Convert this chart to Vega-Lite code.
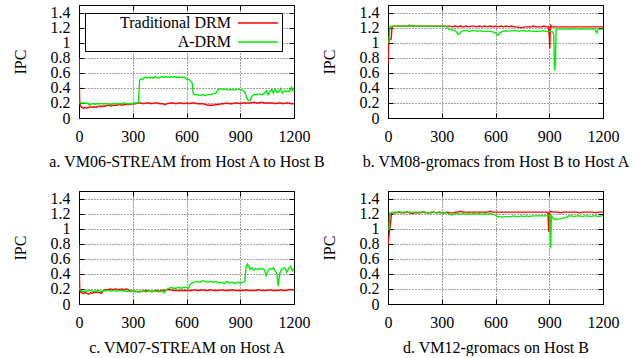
{
  "$schema": "https://vega.github.io/schema/vega-lite/v6.json",
  "padding": {"left": 11, "top": 4, "right": 0, "bottom": 0},
  "bounds": "flush",
  "columns": 2,
  "spacing": {"row": 73, "column": 94},
  "resolve": {"scale": {"color": "independent"}, "legend": {"color": "independent"}},
  "config": {
    "font": "Liberation Serif, DejaVu Serif, serif",
    "view": {"stroke": "#000", "strokeWidth": 1},
    "axis": {"domain": false, "labelOverlap": false, "labelFlush": false, "labelFont": "Liberation Serif, DejaVu Serif, serif", "labelFontSize": 16, "labelColor": "#000", "titleFont": "Liberation Serif, DejaVu Serif, serif", "titleFontSize": 16, "titleFontWeight": "normal", "titleColor": "#000", "tickColor": "#000", "tickSize": -5, "gridColor": "#000", "gridDash": [1, 2], "gridOpacity": 0.75},
    "legend": {"orient": "none", "legendX": 6, "legendY": 8, "symbolType": "M-2.5,0H2.5", "symbolSize": 256, "symbolStrokeWidth": 1.5, "labelFont": "Liberation Serif, DejaVu Serif, serif", "labelFontSize": 16, "labelColor": "#000", "labelAlign": "right", "labelOffset": -36, "symbolOffset": 163, "padding": 1, "rowPadding": 2, "strokeColor": "#000", "fillColor": "#fff", "labelLimit": 300}
  },
  "datasets": {
    "a": [
      {"s":"Traditional DRM","t":0,"v":0.8},{"s":"Traditional DRM","t":2,"v":0.45},{"s":"Traditional DRM","t":4,"v":0.2},{"s":"Traditional DRM","t":8,"v":0.16},{"s":"Traditional DRM","t":15,"v":0.14},{"s":"Traditional DRM","t":25,"v":0.13},{"s":"Traditional DRM","t":35,"v":0.14},{"s":"Traditional DRM","t":45,"v":0.13},{"s":"Traditional DRM","t":55,"v":0.14},{"s":"Traditional DRM","t":65,"v":0.15},{"s":"Traditional DRM","t":75,"v":0.14},{"s":"Traditional DRM","t":85,"v":0.15},{"s":"Traditional DRM","t":95,"v":0.14},{"s":"Traditional DRM","t":105,"v":0.15},{"s":"Traditional DRM","t":115,"v":0.16},{"s":"Traditional DRM","t":125,"v":0.15},{"s":"Traditional DRM","t":135,"v":0.16},{"s":"Traditional DRM","t":150,"v":0.16},{"s":"Traditional DRM","t":165,"v":0.17},{"s":"Traditional DRM","t":180,"v":0.16},{"s":"Traditional DRM","t":195,"v":0.17},{"s":"Traditional DRM","t":210,"v":0.17},{"s":"Traditional DRM","t":225,"v":0.18},{"s":"Traditional DRM","t":240,"v":0.17},{"s":"Traditional DRM","t":255,"v":0.18},{"s":"Traditional DRM","t":270,"v":0.18},{"s":"Traditional DRM","t":285,"v":0.18},{"s":"Traditional DRM","t":300,"v":0.19},{"s":"Traditional DRM","t":315,"v":0.19},{"s":"Traditional DRM","t":330,"v":0.2},{"s":"Traditional DRM","t":345,"v":0.2},{"s":"Traditional DRM","t":360,"v":0.19},{"s":"Traditional DRM","t":375,"v":0.2},{"s":"Traditional DRM","t":390,"v":0.2},{"s":"Traditional DRM","t":405,"v":0.19},{"s":"Traditional DRM","t":420,"v":0.2},{"s":"Traditional DRM","t":435,"v":0.2},{"s":"Traditional DRM","t":450,"v":0.19},{"s":"Traditional DRM","t":465,"v":0.19},{"s":"Traditional DRM","t":480,"v":0.18},{"s":"Traditional DRM","t":495,"v":0.19},{"s":"Traditional DRM","t":510,"v":0.2},{"s":"Traditional DRM","t":525,"v":0.2},{"s":"Traditional DRM","t":540,"v":0.19},{"s":"Traditional DRM","t":555,"v":0.2},{"s":"Traditional DRM","t":570,"v":0.2},{"s":"Traditional DRM","t":585,"v":0.19},{"s":"Traditional DRM","t":600,"v":0.2},{"s":"Traditional DRM","t":615,"v":0.19},{"s":"Traditional DRM","t":630,"v":0.2},{"s":"Traditional DRM","t":645,"v":0.2},{"s":"Traditional DRM","t":660,"v":0.19},{"s":"Traditional DRM","t":675,"v":0.19},{"s":"Traditional DRM","t":690,"v":0.19},{"s":"Traditional DRM","t":705,"v":0.18},{"s":"Traditional DRM","t":720,"v":0.17},{"s":"Traditional DRM","t":735,"v":0.17},{"s":"Traditional DRM","t":750,"v":0.17},{"s":"Traditional DRM","t":765,"v":0.18},{"s":"Traditional DRM","t":780,"v":0.18},{"s":"Traditional DRM","t":795,"v":0.19},{"s":"Traditional DRM","t":810,"v":0.19},{"s":"Traditional DRM","t":825,"v":0.2},{"s":"Traditional DRM","t":840,"v":0.19},{"s":"Traditional DRM","t":855,"v":0.19},{"s":"Traditional DRM","t":870,"v":0.2},{"s":"Traditional DRM","t":885,"v":0.2},{"s":"Traditional DRM","t":900,"v":0.19},{"s":"Traditional DRM","t":915,"v":0.2},{"s":"Traditional DRM","t":930,"v":0.2},{"s":"Traditional DRM","t":945,"v":0.2},{"s":"Traditional DRM","t":960,"v":0.2},{"s":"Traditional DRM","t":975,"v":0.21},{"s":"Traditional DRM","t":990,"v":0.2},{"s":"Traditional DRM","t":1005,"v":0.2},{"s":"Traditional DRM","t":1020,"v":0.21},{"s":"Traditional DRM","t":1035,"v":0.2},{"s":"Traditional DRM","t":1050,"v":0.2},{"s":"Traditional DRM","t":1065,"v":0.2},{"s":"Traditional DRM","t":1080,"v":0.2},{"s":"Traditional DRM","t":1095,"v":0.19},{"s":"Traditional DRM","t":1110,"v":0.2},{"s":"Traditional DRM","t":1125,"v":0.2},{"s":"Traditional DRM","t":1140,"v":0.19},{"s":"Traditional DRM","t":1155,"v":0.2},{"s":"Traditional DRM","t":1170,"v":0.2},{"s":"Traditional DRM","t":1185,"v":0.19},{"s":"Traditional DRM","t":1200,"v":0.19},
      {"s":"A-DRM","t":0,"v":0.21},{"s":"A-DRM","t":10,"v":0.2},{"s":"A-DRM","t":20,"v":0.2},{"s":"A-DRM","t":30,"v":0.2},{"s":"A-DRM","t":40,"v":0.2},{"s":"A-DRM","t":50,"v":0.19},{"s":"A-DRM","t":60,"v":0.17},{"s":"A-DRM","t":70,"v":0.19},{"s":"A-DRM","t":80,"v":0.19},{"s":"A-DRM","t":90,"v":0.18},{"s":"A-DRM","t":100,"v":0.19},{"s":"A-DRM","t":115,"v":0.19},{"s":"A-DRM","t":130,"v":0.19},{"s":"A-DRM","t":145,"v":0.19},{"s":"A-DRM","t":160,"v":0.19},{"s":"A-DRM","t":175,"v":0.18},{"s":"A-DRM","t":190,"v":0.19},{"s":"A-DRM","t":205,"v":0.19},{"s":"A-DRM","t":220,"v":0.19},{"s":"A-DRM","t":235,"v":0.19},{"s":"A-DRM","t":250,"v":0.2},{"s":"A-DRM","t":265,"v":0.19},{"s":"A-DRM","t":280,"v":0.19},{"s":"A-DRM","t":295,"v":0.19},{"s":"A-DRM","t":310,"v":0.2},{"s":"A-DRM","t":325,"v":0.2},{"s":"A-DRM","t":332,"v":0.21},{"s":"A-DRM","t":338,"v":0.5},{"s":"A-DRM","t":345,"v":0.52},{"s":"A-DRM","t":355,"v":0.51},{"s":"A-DRM","t":365,"v":0.54},{"s":"A-DRM","t":375,"v":0.53},{"s":"A-DRM","t":385,"v":0.54},{"s":"A-DRM","t":395,"v":0.53},{"s":"A-DRM","t":405,"v":0.54},{"s":"A-DRM","t":415,"v":0.53},{"s":"A-DRM","t":425,"v":0.55},{"s":"A-DRM","t":435,"v":0.54},{"s":"A-DRM","t":445,"v":0.53},{"s":"A-DRM","t":455,"v":0.54},{"s":"A-DRM","t":465,"v":0.55},{"s":"A-DRM","t":475,"v":0.54},{"s":"A-DRM","t":485,"v":0.55},{"s":"A-DRM","t":495,"v":0.54},{"s":"A-DRM","t":505,"v":0.54},{"s":"A-DRM","t":515,"v":0.55},{"s":"A-DRM","t":525,"v":0.54},{"s":"A-DRM","t":535,"v":0.55},{"s":"A-DRM","t":545,"v":0.54},{"s":"A-DRM","t":555,"v":0.54},{"s":"A-DRM","t":565,"v":0.54},{"s":"A-DRM","t":575,"v":0.54},{"s":"A-DRM","t":585,"v":0.54},{"s":"A-DRM","t":595,"v":0.53},{"s":"A-DRM","t":605,"v":0.51},{"s":"A-DRM","t":615,"v":0.51},{"s":"A-DRM","t":625,"v":0.49},{"s":"A-DRM","t":632,"v":0.46},{"s":"A-DRM","t":638,"v":0.32},{"s":"A-DRM","t":645,"v":0.31},{"s":"A-DRM","t":660,"v":0.31},{"s":"A-DRM","t":675,"v":0.3},{"s":"A-DRM","t":690,"v":0.31},{"s":"A-DRM","t":705,"v":0.3},{"s":"A-DRM","t":720,"v":0.31},{"s":"A-DRM","t":735,"v":0.31},{"s":"A-DRM","t":750,"v":0.32},{"s":"A-DRM","t":765,"v":0.33},{"s":"A-DRM","t":775,"v":0.37},{"s":"A-DRM","t":790,"v":0.39},{"s":"A-DRM","t":805,"v":0.38},{"s":"A-DRM","t":820,"v":0.38},{"s":"A-DRM","t":835,"v":0.37},{"s":"A-DRM","t":850,"v":0.38},{"s":"A-DRM","t":865,"v":0.37},{"s":"A-DRM","t":880,"v":0.38},{"s":"A-DRM","t":895,"v":0.38},{"s":"A-DRM","t":910,"v":0.37},{"s":"A-DRM","t":920,"v":0.36},{"s":"A-DRM","t":928,"v":0.33},{"s":"A-DRM","t":935,"v":0.27},{"s":"A-DRM","t":945,"v":0.23},{"s":"A-DRM","t":955,"v":0.23},{"s":"A-DRM","t":965,"v":0.29},{"s":"A-DRM","t":975,"v":0.31},{"s":"A-DRM","t":990,"v":0.31},{"s":"A-DRM","t":1005,"v":0.32},{"s":"A-DRM","t":1020,"v":0.31},{"s":"A-DRM","t":1035,"v":0.33},{"s":"A-DRM","t":1045,"v":0.36},{"s":"A-DRM","t":1055,"v":0.31},{"s":"A-DRM","t":1065,"v":0.35},{"s":"A-DRM","t":1075,"v":0.38},{"s":"A-DRM","t":1085,"v":0.33},{"s":"A-DRM","t":1095,"v":0.38},{"s":"A-DRM","t":1105,"v":0.34},{"s":"A-DRM","t":1115,"v":0.35},{"s":"A-DRM","t":1125,"v":0.39},{"s":"A-DRM","t":1135,"v":0.33},{"s":"A-DRM","t":1145,"v":0.36},{"s":"A-DRM","t":1155,"v":0.35},{"s":"A-DRM","t":1165,"v":0.36},{"s":"A-DRM","t":1175,"v":0.35},{"s":"A-DRM","t":1185,"v":0.41},{"s":"A-DRM","t":1192,"v":0.37},{"s":"A-DRM","t":1200,"v":0.4}
    ],
    "b": [
      {"s":"Traditional DRM","t":0,"v":0.72},{"s":"Traditional DRM","t":3,"v":0.95},{"s":"Traditional DRM","t":6,"v":1.03},{"s":"Traditional DRM","t":12,"v":1.04},{"s":"Traditional DRM","t":18,"v":1.05},{"s":"Traditional DRM","t":22,"v":1.2},{"s":"Traditional DRM","t":30,"v":1.22},{"s":"Traditional DRM","t":45,"v":1.22},{"s":"Traditional DRM","t":60,"v":1.22},{"s":"Traditional DRM","t":75,"v":1.22},{"s":"Traditional DRM","t":90,"v":1.22},{"s":"Traditional DRM","t":105,"v":1.22},{"s":"Traditional DRM","t":120,"v":1.23},{"s":"Traditional DRM","t":135,"v":1.22},{"s":"Traditional DRM","t":150,"v":1.22},{"s":"Traditional DRM","t":165,"v":1.22},{"s":"Traditional DRM","t":180,"v":1.22},{"s":"Traditional DRM","t":195,"v":1.22},{"s":"Traditional DRM","t":210,"v":1.22},{"s":"Traditional DRM","t":225,"v":1.22},{"s":"Traditional DRM","t":240,"v":1.22},{"s":"Traditional DRM","t":255,"v":1.22},{"s":"Traditional DRM","t":270,"v":1.22},{"s":"Traditional DRM","t":285,"v":1.22},{"s":"Traditional DRM","t":300,"v":1.22},{"s":"Traditional DRM","t":315,"v":1.22},{"s":"Traditional DRM","t":330,"v":1.22},{"s":"Traditional DRM","t":345,"v":1.22},{"s":"Traditional DRM","t":360,"v":1.21},{"s":"Traditional DRM","t":375,"v":1.22},{"s":"Traditional DRM","t":390,"v":1.21},{"s":"Traditional DRM","t":405,"v":1.22},{"s":"Traditional DRM","t":420,"v":1.21},{"s":"Traditional DRM","t":435,"v":1.22},{"s":"Traditional DRM","t":450,"v":1.21},{"s":"Traditional DRM","t":465,"v":1.22},{"s":"Traditional DRM","t":480,"v":1.22},{"s":"Traditional DRM","t":495,"v":1.21},{"s":"Traditional DRM","t":510,"v":1.22},{"s":"Traditional DRM","t":525,"v":1.21},{"s":"Traditional DRM","t":540,"v":1.22},{"s":"Traditional DRM","t":555,"v":1.21},{"s":"Traditional DRM","t":570,"v":1.22},{"s":"Traditional DRM","t":585,"v":1.21},{"s":"Traditional DRM","t":600,"v":1.22},{"s":"Traditional DRM","t":615,"v":1.21},{"s":"Traditional DRM","t":630,"v":1.22},{"s":"Traditional DRM","t":645,"v":1.21},{"s":"Traditional DRM","t":660,"v":1.22},{"s":"Traditional DRM","t":675,"v":1.21},{"s":"Traditional DRM","t":690,"v":1.22},{"s":"Traditional DRM","t":705,"v":1.21},{"s":"Traditional DRM","t":720,"v":1.21},{"s":"Traditional DRM","t":735,"v":1.2},{"s":"Traditional DRM","t":750,"v":1.2},{"s":"Traditional DRM","t":765,"v":1.21},{"s":"Traditional DRM","t":780,"v":1.21},{"s":"Traditional DRM","t":795,"v":1.21},{"s":"Traditional DRM","t":810,"v":1.22},{"s":"Traditional DRM","t":825,"v":1.21},{"s":"Traditional DRM","t":840,"v":1.21},{"s":"Traditional DRM","t":855,"v":1.21},{"s":"Traditional DRM","t":870,"v":1.22},{"s":"Traditional DRM","t":885,"v":1.21},{"s":"Traditional DRM","t":895,"v":1.21},{"s":"Traditional DRM","t":900,"v":1.1},{"s":"Traditional DRM","t":903,"v":0.92},{"s":"Traditional DRM","t":906,"v":1.2},{"s":"Traditional DRM","t":909,"v":1.23},{"s":"Traditional DRM","t":915,"v":1.21},{"s":"Traditional DRM","t":930,"v":1.21},{"s":"Traditional DRM","t":945,"v":1.21},{"s":"Traditional DRM","t":960,"v":1.21},{"s":"Traditional DRM","t":975,"v":1.21},{"s":"Traditional DRM","t":990,"v":1.21},{"s":"Traditional DRM","t":1005,"v":1.21},{"s":"Traditional DRM","t":1020,"v":1.21},{"s":"Traditional DRM","t":1035,"v":1.21},{"s":"Traditional DRM","t":1050,"v":1.21},{"s":"Traditional DRM","t":1065,"v":1.21},{"s":"Traditional DRM","t":1080,"v":1.21},{"s":"Traditional DRM","t":1095,"v":1.21},{"s":"Traditional DRM","t":1110,"v":1.21},{"s":"Traditional DRM","t":1125,"v":1.21},{"s":"Traditional DRM","t":1140,"v":1.21},{"s":"Traditional DRM","t":1155,"v":1.21},{"s":"Traditional DRM","t":1170,"v":1.21},{"s":"Traditional DRM","t":1185,"v":1.21},{"s":"Traditional DRM","t":1200,"v":1.21},
      {"s":"A-DRM","t":0,"v":1.0},{"s":"A-DRM","t":5,"v":1.02},{"s":"A-DRM","t":10,"v":1.2},{"s":"A-DRM","t":15,"v":1.22},{"s":"A-DRM","t":30,"v":1.22},{"s":"A-DRM","t":45,"v":1.22},{"s":"A-DRM","t":60,"v":1.22},{"s":"A-DRM","t":75,"v":1.22},{"s":"A-DRM","t":90,"v":1.22},{"s":"A-DRM","t":105,"v":1.22},{"s":"A-DRM","t":120,"v":1.22},{"s":"A-DRM","t":135,"v":1.23},{"s":"A-DRM","t":150,"v":1.22},{"s":"A-DRM","t":165,"v":1.22},{"s":"A-DRM","t":180,"v":1.22},{"s":"A-DRM","t":195,"v":1.22},{"s":"A-DRM","t":210,"v":1.22},{"s":"A-DRM","t":225,"v":1.22},{"s":"A-DRM","t":240,"v":1.22},{"s":"A-DRM","t":255,"v":1.22},{"s":"A-DRM","t":270,"v":1.22},{"s":"A-DRM","t":285,"v":1.22},{"s":"A-DRM","t":300,"v":1.22},{"s":"A-DRM","t":315,"v":1.22},{"s":"A-DRM","t":330,"v":1.21},{"s":"A-DRM","t":340,"v":1.18},{"s":"A-DRM","t":350,"v":1.17},{"s":"A-DRM","t":365,"v":1.17},{"s":"A-DRM","t":380,"v":1.15},{"s":"A-DRM","t":390,"v":1.11},{"s":"A-DRM","t":400,"v":1.12},{"s":"A-DRM","t":410,"v":1.15},{"s":"A-DRM","t":425,"v":1.16},{"s":"A-DRM","t":440,"v":1.16},{"s":"A-DRM","t":455,"v":1.15},{"s":"A-DRM","t":470,"v":1.16},{"s":"A-DRM","t":485,"v":1.16},{"s":"A-DRM","t":500,"v":1.15},{"s":"A-DRM","t":515,"v":1.16},{"s":"A-DRM","t":530,"v":1.15},{"s":"A-DRM","t":545,"v":1.15},{"s":"A-DRM","t":560,"v":1.15},{"s":"A-DRM","t":575,"v":1.15},{"s":"A-DRM","t":590,"v":1.14},{"s":"A-DRM","t":605,"v":1.12},{"s":"A-DRM","t":615,"v":1.1},{"s":"A-DRM","t":625,"v":1.13},{"s":"A-DRM","t":640,"v":1.15},{"s":"A-DRM","t":655,"v":1.16},{"s":"A-DRM","t":670,"v":1.15},{"s":"A-DRM","t":685,"v":1.16},{"s":"A-DRM","t":700,"v":1.16},{"s":"A-DRM","t":715,"v":1.16},{"s":"A-DRM","t":730,"v":1.15},{"s":"A-DRM","t":745,"v":1.16},{"s":"A-DRM","t":760,"v":1.16},{"s":"A-DRM","t":775,"v":1.15},{"s":"A-DRM","t":790,"v":1.16},{"s":"A-DRM","t":805,"v":1.15},{"s":"A-DRM","t":820,"v":1.15},{"s":"A-DRM","t":835,"v":1.15},{"s":"A-DRM","t":850,"v":1.15},{"s":"A-DRM","t":865,"v":1.16},{"s":"A-DRM","t":880,"v":1.15},{"s":"A-DRM","t":895,"v":1.15},{"s":"A-DRM","t":910,"v":1.15},{"s":"A-DRM","t":920,"v":1.14},{"s":"A-DRM","t":925,"v":1.1},{"s":"A-DRM","t":930,"v":0.63},{"s":"A-DRM","t":935,"v":0.75},{"s":"A-DRM","t":938,"v":1.18},{"s":"A-DRM","t":945,"v":1.18},{"s":"A-DRM","t":960,"v":1.18},{"s":"A-DRM","t":975,"v":1.18},{"s":"A-DRM","t":990,"v":1.18},{"s":"A-DRM","t":1005,"v":1.18},{"s":"A-DRM","t":1020,"v":1.18},{"s":"A-DRM","t":1035,"v":1.18},{"s":"A-DRM","t":1050,"v":1.19},{"s":"A-DRM","t":1065,"v":1.18},{"s":"A-DRM","t":1080,"v":1.18},{"s":"A-DRM","t":1095,"v":1.18},{"s":"A-DRM","t":1110,"v":1.18},{"s":"A-DRM","t":1125,"v":1.18},{"s":"A-DRM","t":1140,"v":1.18},{"s":"A-DRM","t":1155,"v":1.18},{"s":"A-DRM","t":1165,"v":1.13},{"s":"A-DRM","t":1172,"v":1.18},{"s":"A-DRM","t":1185,"v":1.18},{"s":"A-DRM","t":1200,"v":1.18}
    ],
    "c": [
      {"s":"Traditional DRM","t":0,"v":0.8},{"s":"Traditional DRM","t":2,"v":0.45},{"s":"Traditional DRM","t":4,"v":0.2},{"s":"Traditional DRM","t":8,"v":0.16},{"s":"Traditional DRM","t":15,"v":0.15},{"s":"Traditional DRM","t":25,"v":0.14},{"s":"Traditional DRM","t":35,"v":0.15},{"s":"Traditional DRM","t":45,"v":0.14},{"s":"Traditional DRM","t":55,"v":0.13},{"s":"Traditional DRM","t":65,"v":0.15},{"s":"Traditional DRM","t":75,"v":0.14},{"s":"Traditional DRM","t":85,"v":0.16},{"s":"Traditional DRM","t":95,"v":0.15},{"s":"Traditional DRM","t":105,"v":0.16},{"s":"Traditional DRM","t":115,"v":0.15},{"s":"Traditional DRM","t":125,"v":0.14},{"s":"Traditional DRM","t":135,"v":0.17},{"s":"Traditional DRM","t":145,"v":0.19},{"s":"Traditional DRM","t":160,"v":0.19},{"s":"Traditional DRM","t":175,"v":0.2},{"s":"Traditional DRM","t":190,"v":0.19},{"s":"Traditional DRM","t":205,"v":0.2},{"s":"Traditional DRM","t":220,"v":0.19},{"s":"Traditional DRM","t":235,"v":0.2},{"s":"Traditional DRM","t":250,"v":0.19},{"s":"Traditional DRM","t":265,"v":0.2},{"s":"Traditional DRM","t":275,"v":0.19},{"s":"Traditional DRM","t":285,"v":0.17},{"s":"Traditional DRM","t":300,"v":0.17},{"s":"Traditional DRM","t":315,"v":0.17},{"s":"Traditional DRM","t":330,"v":0.16},{"s":"Traditional DRM","t":345,"v":0.17},{"s":"Traditional DRM","t":360,"v":0.17},{"s":"Traditional DRM","t":375,"v":0.18},{"s":"Traditional DRM","t":390,"v":0.17},{"s":"Traditional DRM","t":405,"v":0.17},{"s":"Traditional DRM","t":420,"v":0.17},{"s":"Traditional DRM","t":435,"v":0.18},{"s":"Traditional DRM","t":450,"v":0.17},{"s":"Traditional DRM","t":465,"v":0.18},{"s":"Traditional DRM","t":480,"v":0.18},{"s":"Traditional DRM","t":495,"v":0.19},{"s":"Traditional DRM","t":510,"v":0.19},{"s":"Traditional DRM","t":525,"v":0.18},{"s":"Traditional DRM","t":540,"v":0.18},{"s":"Traditional DRM","t":555,"v":0.18},{"s":"Traditional DRM","t":570,"v":0.18},{"s":"Traditional DRM","t":585,"v":0.18},{"s":"Traditional DRM","t":600,"v":0.18},{"s":"Traditional DRM","t":615,"v":0.18},{"s":"Traditional DRM","t":630,"v":0.18},{"s":"Traditional DRM","t":645,"v":0.19},{"s":"Traditional DRM","t":660,"v":0.18},{"s":"Traditional DRM","t":675,"v":0.18},{"s":"Traditional DRM","t":690,"v":0.19},{"s":"Traditional DRM","t":705,"v":0.18},{"s":"Traditional DRM","t":720,"v":0.18},{"s":"Traditional DRM","t":735,"v":0.19},{"s":"Traditional DRM","t":750,"v":0.18},{"s":"Traditional DRM","t":765,"v":0.18},{"s":"Traditional DRM","t":780,"v":0.18},{"s":"Traditional DRM","t":795,"v":0.19},{"s":"Traditional DRM","t":810,"v":0.18},{"s":"Traditional DRM","t":825,"v":0.18},{"s":"Traditional DRM","t":840,"v":0.18},{"s":"Traditional DRM","t":855,"v":0.19},{"s":"Traditional DRM","t":870,"v":0.18},{"s":"Traditional DRM","t":885,"v":0.18},{"s":"Traditional DRM","t":900,"v":0.18},{"s":"Traditional DRM","t":915,"v":0.18},{"s":"Traditional DRM","t":930,"v":0.19},{"s":"Traditional DRM","t":945,"v":0.18},{"s":"Traditional DRM","t":960,"v":0.18},{"s":"Traditional DRM","t":975,"v":0.18},{"s":"Traditional DRM","t":990,"v":0.18},{"s":"Traditional DRM","t":1005,"v":0.19},{"s":"Traditional DRM","t":1020,"v":0.18},{"s":"Traditional DRM","t":1035,"v":0.18},{"s":"Traditional DRM","t":1050,"v":0.18},{"s":"Traditional DRM","t":1065,"v":0.19},{"s":"Traditional DRM","t":1080,"v":0.18},{"s":"Traditional DRM","t":1095,"v":0.18},{"s":"Traditional DRM","t":1110,"v":0.18},{"s":"Traditional DRM","t":1125,"v":0.19},{"s":"Traditional DRM","t":1140,"v":0.18},{"s":"Traditional DRM","t":1155,"v":0.18},{"s":"Traditional DRM","t":1170,"v":0.19},{"s":"Traditional DRM","t":1185,"v":0.19},{"s":"Traditional DRM","t":1200,"v":0.19},
      {"s":"A-DRM","t":0,"v":0.2},{"s":"A-DRM","t":10,"v":0.18},{"s":"A-DRM","t":20,"v":0.17},{"s":"A-DRM","t":30,"v":0.17},{"s":"A-DRM","t":45,"v":0.17},{"s":"A-DRM","t":60,"v":0.18},{"s":"A-DRM","t":75,"v":0.17},{"s":"A-DRM","t":90,"v":0.17},{"s":"A-DRM","t":105,"v":0.18},{"s":"A-DRM","t":120,"v":0.17},{"s":"A-DRM","t":135,"v":0.17},{"s":"A-DRM","t":150,"v":0.18},{"s":"A-DRM","t":165,"v":0.18},{"s":"A-DRM","t":180,"v":0.17},{"s":"A-DRM","t":195,"v":0.18},{"s":"A-DRM","t":210,"v":0.17},{"s":"A-DRM","t":225,"v":0.18},{"s":"A-DRM","t":240,"v":0.18},{"s":"A-DRM","t":255,"v":0.17},{"s":"A-DRM","t":270,"v":0.17},{"s":"A-DRM","t":285,"v":0.17},{"s":"A-DRM","t":300,"v":0.17},{"s":"A-DRM","t":315,"v":0.16},{"s":"A-DRM","t":330,"v":0.17},{"s":"A-DRM","t":345,"v":0.16},{"s":"A-DRM","t":360,"v":0.17},{"s":"A-DRM","t":375,"v":0.16},{"s":"A-DRM","t":390,"v":0.17},{"s":"A-DRM","t":405,"v":0.16},{"s":"A-DRM","t":420,"v":0.17},{"s":"A-DRM","t":435,"v":0.17},{"s":"A-DRM","t":450,"v":0.16},{"s":"A-DRM","t":465,"v":0.17},{"s":"A-DRM","t":475,"v":0.15},{"s":"A-DRM","t":485,"v":0.18},{"s":"A-DRM","t":495,"v":0.2},{"s":"A-DRM","t":505,"v":0.21},{"s":"A-DRM","t":515,"v":0.22},{"s":"A-DRM","t":525,"v":0.21},{"s":"A-DRM","t":540,"v":0.21},{"s":"A-DRM","t":555,"v":0.22},{"s":"A-DRM","t":570,"v":0.21},{"s":"A-DRM","t":585,"v":0.22},{"s":"A-DRM","t":600,"v":0.22},{"s":"A-DRM","t":612,"v":0.21},{"s":"A-DRM","t":620,"v":0.26},{"s":"A-DRM","t":630,"v":0.28},{"s":"A-DRM","t":645,"v":0.29},{"s":"A-DRM","t":660,"v":0.3},{"s":"A-DRM","t":675,"v":0.29},{"s":"A-DRM","t":690,"v":0.31},{"s":"A-DRM","t":705,"v":0.3},{"s":"A-DRM","t":720,"v":0.29},{"s":"A-DRM","t":735,"v":0.3},{"s":"A-DRM","t":750,"v":0.29},{"s":"A-DRM","t":765,"v":0.3},{"s":"A-DRM","t":780,"v":0.28},{"s":"A-DRM","t":795,"v":0.29},{"s":"A-DRM","t":810,"v":0.27},{"s":"A-DRM","t":825,"v":0.3},{"s":"A-DRM","t":840,"v":0.28},{"s":"A-DRM","t":855,"v":0.29},{"s":"A-DRM","t":870,"v":0.27},{"s":"A-DRM","t":885,"v":0.29},{"s":"A-DRM","t":900,"v":0.28},{"s":"A-DRM","t":915,"v":0.29},{"s":"A-DRM","t":925,"v":0.3},{"s":"A-DRM","t":932,"v":0.48},{"s":"A-DRM","t":940,"v":0.53},{"s":"A-DRM","t":948,"v":0.5},{"s":"A-DRM","t":955,"v":0.46},{"s":"A-DRM","t":965,"v":0.48},{"s":"A-DRM","t":975,"v":0.45},{"s":"A-DRM","t":985,"v":0.47},{"s":"A-DRM","t":995,"v":0.46},{"s":"A-DRM","t":1005,"v":0.47},{"s":"A-DRM","t":1015,"v":0.46},{"s":"A-DRM","t":1025,"v":0.47},{"s":"A-DRM","t":1035,"v":0.45},{"s":"A-DRM","t":1045,"v":0.38},{"s":"A-DRM","t":1055,"v":0.44},{"s":"A-DRM","t":1065,"v":0.47},{"s":"A-DRM","t":1075,"v":0.46},{"s":"A-DRM","t":1085,"v":0.48},{"s":"A-DRM","t":1095,"v":0.44},{"s":"A-DRM","t":1105,"v":0.4},{"s":"A-DRM","t":1112,"v":0.24},{"s":"A-DRM","t":1120,"v":0.4},{"s":"A-DRM","t":1130,"v":0.46},{"s":"A-DRM","t":1140,"v":0.47},{"s":"A-DRM","t":1150,"v":0.48},{"s":"A-DRM","t":1160,"v":0.42},{"s":"A-DRM","t":1170,"v":0.47},{"s":"A-DRM","t":1180,"v":0.5},{"s":"A-DRM","t":1190,"v":0.44},{"s":"A-DRM","t":1200,"v":0.47}
    ],
    "d": [
      {"s":"Traditional DRM","t":0,"v":0.79},{"s":"Traditional DRM","t":5,"v":0.9},{"s":"Traditional DRM","t":10,"v":1.0},{"s":"Traditional DRM","t":15,"v":1.1},{"s":"Traditional DRM","t":20,"v":1.21},{"s":"Traditional DRM","t":30,"v":1.21},{"s":"Traditional DRM","t":45,"v":1.21},{"s":"Traditional DRM","t":60,"v":1.22},{"s":"Traditional DRM","t":75,"v":1.21},{"s":"Traditional DRM","t":90,"v":1.21},{"s":"Traditional DRM","t":105,"v":1.22},{"s":"Traditional DRM","t":120,"v":1.21},{"s":"Traditional DRM","t":135,"v":1.2},{"s":"Traditional DRM","t":150,"v":1.21},{"s":"Traditional DRM","t":165,"v":1.21},{"s":"Traditional DRM","t":180,"v":1.21},{"s":"Traditional DRM","t":195,"v":1.22},{"s":"Traditional DRM","t":210,"v":1.21},{"s":"Traditional DRM","t":225,"v":1.21},{"s":"Traditional DRM","t":240,"v":1.21},{"s":"Traditional DRM","t":255,"v":1.22},{"s":"Traditional DRM","t":270,"v":1.21},{"s":"Traditional DRM","t":285,"v":1.22},{"s":"Traditional DRM","t":300,"v":1.21},{"s":"Traditional DRM","t":315,"v":1.21},{"s":"Traditional DRM","t":330,"v":1.22},{"s":"Traditional DRM","t":345,"v":1.21},{"s":"Traditional DRM","t":360,"v":1.21},{"s":"Traditional DRM","t":375,"v":1.22},{"s":"Traditional DRM","t":390,"v":1.22},{"s":"Traditional DRM","t":405,"v":1.23},{"s":"Traditional DRM","t":420,"v":1.22},{"s":"Traditional DRM","t":435,"v":1.22},{"s":"Traditional DRM","t":450,"v":1.22},{"s":"Traditional DRM","t":465,"v":1.22},{"s":"Traditional DRM","t":480,"v":1.22},{"s":"Traditional DRM","t":495,"v":1.22},{"s":"Traditional DRM","t":510,"v":1.22},{"s":"Traditional DRM","t":525,"v":1.22},{"s":"Traditional DRM","t":540,"v":1.22},{"s":"Traditional DRM","t":555,"v":1.22},{"s":"Traditional DRM","t":570,"v":1.23},{"s":"Traditional DRM","t":585,"v":1.22},{"s":"Traditional DRM","t":600,"v":1.22},{"s":"Traditional DRM","t":615,"v":1.22},{"s":"Traditional DRM","t":630,"v":1.22},{"s":"Traditional DRM","t":645,"v":1.22},{"s":"Traditional DRM","t":660,"v":1.22},{"s":"Traditional DRM","t":675,"v":1.22},{"s":"Traditional DRM","t":690,"v":1.22},{"s":"Traditional DRM","t":705,"v":1.22},{"s":"Traditional DRM","t":720,"v":1.22},{"s":"Traditional DRM","t":735,"v":1.22},{"s":"Traditional DRM","t":750,"v":1.22},{"s":"Traditional DRM","t":765,"v":1.22},{"s":"Traditional DRM","t":780,"v":1.22},{"s":"Traditional DRM","t":795,"v":1.22},{"s":"Traditional DRM","t":810,"v":1.22},{"s":"Traditional DRM","t":825,"v":1.22},{"s":"Traditional DRM","t":840,"v":1.22},{"s":"Traditional DRM","t":855,"v":1.22},{"s":"Traditional DRM","t":870,"v":1.22},{"s":"Traditional DRM","t":885,"v":1.22},{"s":"Traditional DRM","t":893,"v":1.22},{"s":"Traditional DRM","t":897,"v":0.96},{"s":"Traditional DRM","t":902,"v":1.22},{"s":"Traditional DRM","t":910,"v":1.23},{"s":"Traditional DRM","t":920,"v":1.22},{"s":"Traditional DRM","t":935,"v":1.22},{"s":"Traditional DRM","t":950,"v":1.22},{"s":"Traditional DRM","t":965,"v":1.21},{"s":"Traditional DRM","t":980,"v":1.22},{"s":"Traditional DRM","t":995,"v":1.22},{"s":"Traditional DRM","t":1010,"v":1.22},{"s":"Traditional DRM","t":1025,"v":1.22},{"s":"Traditional DRM","t":1040,"v":1.22},{"s":"Traditional DRM","t":1055,"v":1.22},{"s":"Traditional DRM","t":1070,"v":1.21},{"s":"Traditional DRM","t":1085,"v":1.22},{"s":"Traditional DRM","t":1100,"v":1.22},{"s":"Traditional DRM","t":1115,"v":1.22},{"s":"Traditional DRM","t":1130,"v":1.22},{"s":"Traditional DRM","t":1145,"v":1.22},{"s":"Traditional DRM","t":1160,"v":1.21},{"s":"Traditional DRM","t":1175,"v":1.22},{"s":"Traditional DRM","t":1190,"v":1.22},{"s":"Traditional DRM","t":1200,"v":1.22},
      {"s":"A-DRM","t":0,"v":0.98},{"s":"A-DRM","t":5,"v":1.0},{"s":"A-DRM","t":10,"v":1.21},{"s":"A-DRM","t":20,"v":1.21},{"s":"A-DRM","t":30,"v":1.22},{"s":"A-DRM","t":45,"v":1.22},{"s":"A-DRM","t":60,"v":1.22},{"s":"A-DRM","t":75,"v":1.22},{"s":"A-DRM","t":90,"v":1.22},{"s":"A-DRM","t":105,"v":1.22},{"s":"A-DRM","t":120,"v":1.22},{"s":"A-DRM","t":135,"v":1.22},{"s":"A-DRM","t":150,"v":1.22},{"s":"A-DRM","t":165,"v":1.22},{"s":"A-DRM","t":180,"v":1.22},{"s":"A-DRM","t":195,"v":1.22},{"s":"A-DRM","t":210,"v":1.22},{"s":"A-DRM","t":225,"v":1.21},{"s":"A-DRM","t":240,"v":1.22},{"s":"A-DRM","t":255,"v":1.22},{"s":"A-DRM","t":270,"v":1.21},{"s":"A-DRM","t":285,"v":1.21},{"s":"A-DRM","t":300,"v":1.21},{"s":"A-DRM","t":315,"v":1.21},{"s":"A-DRM","t":330,"v":1.21},{"s":"A-DRM","t":345,"v":1.19},{"s":"A-DRM","t":360,"v":1.18},{"s":"A-DRM","t":375,"v":1.2},{"s":"A-DRM","t":390,"v":1.2},{"s":"A-DRM","t":405,"v":1.19},{"s":"A-DRM","t":420,"v":1.2},{"s":"A-DRM","t":435,"v":1.19},{"s":"A-DRM","t":450,"v":1.2},{"s":"A-DRM","t":465,"v":1.19},{"s":"A-DRM","t":480,"v":1.2},{"s":"A-DRM","t":495,"v":1.19},{"s":"A-DRM","t":510,"v":1.2},{"s":"A-DRM","t":525,"v":1.19},{"s":"A-DRM","t":540,"v":1.2},{"s":"A-DRM","t":555,"v":1.19},{"s":"A-DRM","t":570,"v":1.2},{"s":"A-DRM","t":585,"v":1.19},{"s":"A-DRM","t":600,"v":1.18},{"s":"A-DRM","t":610,"v":1.16},{"s":"A-DRM","t":625,"v":1.16},{"s":"A-DRM","t":640,"v":1.15},{"s":"A-DRM","t":655,"v":1.16},{"s":"A-DRM","t":670,"v":1.16},{"s":"A-DRM","t":685,"v":1.16},{"s":"A-DRM","t":700,"v":1.17},{"s":"A-DRM","t":715,"v":1.16},{"s":"A-DRM","t":730,"v":1.16},{"s":"A-DRM","t":745,"v":1.17},{"s":"A-DRM","t":760,"v":1.16},{"s":"A-DRM","t":775,"v":1.17},{"s":"A-DRM","t":790,"v":1.16},{"s":"A-DRM","t":805,"v":1.17},{"s":"A-DRM","t":820,"v":1.17},{"s":"A-DRM","t":835,"v":1.17},{"s":"A-DRM","t":850,"v":1.17},{"s":"A-DRM","t":865,"v":1.17},{"s":"A-DRM","t":880,"v":1.17},{"s":"A-DRM","t":895,"v":1.17},{"s":"A-DRM","t":903,"v":1.18},{"s":"A-DRM","t":908,"v":0.75},{"s":"A-DRM","t":912,"v":1.18},{"s":"A-DRM","t":920,"v":1.14},{"s":"A-DRM","t":935,"v":1.12},{"s":"A-DRM","t":950,"v":1.13},{"s":"A-DRM","t":965,"v":1.13},{"s":"A-DRM","t":980,"v":1.14},{"s":"A-DRM","t":995,"v":1.15},{"s":"A-DRM","t":1010,"v":1.17},{"s":"A-DRM","t":1025,"v":1.17},{"s":"A-DRM","t":1040,"v":1.16},{"s":"A-DRM","t":1055,"v":1.17},{"s":"A-DRM","t":1070,"v":1.17},{"s":"A-DRM","t":1085,"v":1.16},{"s":"A-DRM","t":1100,"v":1.17},{"s":"A-DRM","t":1115,"v":1.17},{"s":"A-DRM","t":1130,"v":1.16},{"s":"A-DRM","t":1145,"v":1.17},{"s":"A-DRM","t":1160,"v":1.17},{"s":"A-DRM","t":1175,"v":1.16},{"s":"A-DRM","t":1190,"v":1.17},{"s":"A-DRM","t":1200,"v":1.17}
    ]
  },
  "concat": [
    {
      "width": 215, "height": 113, "data": {"name": "a"},
      "resolve": {"axis": {"x": "independent", "y": "independent"}},
      "layer": [
        {"mark": {"type": "line", "strokeWidth": 1.4, "clip": true},
         "encoding": {
           "x": {"field": "t", "type": "quantitative", "scale": {"domain": [0, 1200], "nice": false, "zero": false}, "axis": {"orient": "bottom", "values": [0, 300, 600, 900, 1200], "format": "d", "grid": true, "labelPadding": 15, "titleY": 48, "titleBaseline": "alphabetic"}, "title": "a. VM06-STREAM from Host A to Host B"},
           "y": {"field": "v", "type": "quantitative", "scale": {"domain": [0, 1.5], "nice": false, "zero": false}, "axis": {"orient": "left", "values": [0, 0.2, 0.4, 0.6, 0.8, 1, 1.2, 1.4], "format": ".1~f", "grid": true, "labelPadding": 14, "titleX": -54, "titleY": 56.5, "titleBaseline": "alphabetic"}, "title": "IPC"},
           "color": {"field": "s", "type": "nominal", "scale": {"domain": ["Traditional DRM", "A-DRM"], "range": ["#ff0000", "#00ee00"]}, "legend": {"title": null}}
         }},
        {"mark": {"type": "point", "opacity": 0},
         "encoding": {
           "x": {"field": "t", "type": "quantitative", "scale": {"domain": [0, 1200], "nice": false, "zero": false}, "axis": {"orient": "top", "values": [0, 300, 600, 900, 1200], "labels": false, "grid": false, "title": null}},
           "y": {"field": "v", "type": "quantitative", "scale": {"domain": [0, 1.5], "nice": false, "zero": false}, "axis": {"orient": "right", "values": [0, 0.2, 0.4, 0.6, 0.8, 1, 1.2, 1.4], "labels": false, "grid": false, "title": null}}
         }}
      ]
    },
    {
      "width": 215, "height": 113, "data": {"name": "b"},
      "resolve": {"axis": {"x": "independent", "y": "independent"}},
      "layer": [
        {"mark": {"type": "line", "strokeWidth": 1.4, "clip": true},
         "encoding": {
           "x": {"field": "t", "type": "quantitative", "scale": {"domain": [0, 1200], "nice": false, "zero": false}, "axis": {"orient": "bottom", "values": [0, 300, 600, 900, 1200], "format": "d", "grid": true, "labelPadding": 15, "titleY": 48, "titleBaseline": "alphabetic"}, "title": "b. VM08-gromacs from Host B to Host A"},
           "y": {"field": "v", "type": "quantitative", "scale": {"domain": [0, 1.5], "nice": false, "zero": false}, "axis": {"orient": "left", "values": [0, 0.2, 0.4, 0.6, 0.8, 1, 1.2, 1.4], "format": ".1~f", "grid": true, "labelPadding": 14, "titleX": -54, "titleY": 56.5, "titleBaseline": "alphabetic"}, "title": "IPC"},
           "color": {"field": "s", "type": "nominal", "scale": {"domain": ["Traditional DRM", "A-DRM"], "range": ["#ff0000", "#00ee00"]}, "legend": null}
         }},
        {"mark": {"type": "point", "opacity": 0},
         "encoding": {
           "x": {"field": "t", "type": "quantitative", "scale": {"domain": [0, 1200], "nice": false, "zero": false}, "axis": {"orient": "top", "values": [0, 300, 600, 900, 1200], "labels": false, "grid": false, "title": null}},
           "y": {"field": "v", "type": "quantitative", "scale": {"domain": [0, 1.5], "nice": false, "zero": false}, "axis": {"orient": "right", "values": [0, 0.2, 0.4, 0.6, 0.8, 1, 1.2, 1.4], "labels": false, "grid": false, "title": null}}
         }}
      ]
    },
    {
      "width": 215, "height": 113, "data": {"name": "c"},
      "resolve": {"axis": {"x": "independent", "y": "independent"}},
      "layer": [
        {"mark": {"type": "line", "strokeWidth": 1.4, "clip": true},
         "encoding": {
           "x": {"field": "t", "type": "quantitative", "scale": {"domain": [0, 1200], "nice": false, "zero": false}, "axis": {"orient": "bottom", "values": [0, 300, 600, 900, 1200], "format": "d", "grid": true, "labelPadding": 15, "titleY": 48, "titleBaseline": "alphabetic"}, "title": "c. VM07-STREAM on Host A"},
           "y": {"field": "v", "type": "quantitative", "scale": {"domain": [0, 1.5], "nice": false, "zero": false}, "axis": {"orient": "left", "values": [0, 0.2, 0.4, 0.6, 0.8, 1, 1.2, 1.4], "format": ".1~f", "grid": true, "labelPadding": 14, "titleX": -54, "titleY": 56.5, "titleBaseline": "alphabetic"}, "title": "IPC"},
           "color": {"field": "s", "type": "nominal", "scale": {"domain": ["Traditional DRM", "A-DRM"], "range": ["#ff0000", "#00ee00"]}, "legend": null}
         }},
        {"mark": {"type": "point", "opacity": 0},
         "encoding": {
           "x": {"field": "t", "type": "quantitative", "scale": {"domain": [0, 1200], "nice": false, "zero": false}, "axis": {"orient": "top", "values": [0, 300, 600, 900, 1200], "labels": false, "grid": false, "title": null}},
           "y": {"field": "v", "type": "quantitative", "scale": {"domain": [0, 1.5], "nice": false, "zero": false}, "axis": {"orient": "right", "values": [0, 0.2, 0.4, 0.6, 0.8, 1, 1.2, 1.4], "labels": false, "grid": false, "title": null}}
         }}
      ]
    },
    {
      "width": 215, "height": 113, "data": {"name": "d"},
      "resolve": {"axis": {"x": "independent", "y": "independent"}},
      "layer": [
        {"mark": {"type": "line", "strokeWidth": 1.4, "clip": true},
         "encoding": {
           "x": {"field": "t", "type": "quantitative", "scale": {"domain": [0, 1200], "nice": false, "zero": false}, "axis": {"orient": "bottom", "values": [0, 300, 600, 900, 1200], "format": "d", "grid": true, "labelPadding": 15, "titleY": 48, "titleBaseline": "alphabetic"}, "title": "d. VM12-gromacs on Host B"},
           "y": {"field": "v", "type": "quantitative", "scale": {"domain": [0, 1.5], "nice": false, "zero": false}, "axis": {"orient": "left", "values": [0, 0.2, 0.4, 0.6, 0.8, 1, 1.2, 1.4], "format": ".1~f", "grid": true, "labelPadding": 14, "titleX": -54, "titleY": 56.5, "titleBaseline": "alphabetic"}, "title": "IPC"},
           "color": {"field": "s", "type": "nominal", "scale": {"domain": ["Traditional DRM", "A-DRM"], "range": ["#ff0000", "#00ee00"]}, "legend": null}
         }},
        {"mark": {"type": "point", "opacity": 0},
         "encoding": {
           "x": {"field": "t", "type": "quantitative", "scale": {"domain": [0, 1200], "nice": false, "zero": false}, "axis": {"orient": "top", "values": [0, 300, 600, 900, 1200], "labels": false, "grid": false, "title": null}},
           "y": {"field": "v", "type": "quantitative", "scale": {"domain": [0, 1.5], "nice": false, "zero": false}, "axis": {"orient": "right", "values": [0, 0.2, 0.4, 0.6, 0.8, 1, 1.2, 1.4], "labels": false, "grid": false, "title": null}}
         }}
      ]
    }
  ]
}
